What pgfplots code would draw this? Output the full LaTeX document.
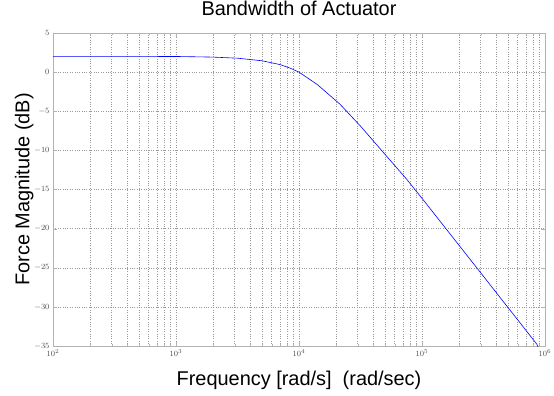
\documentclass[border=0pt]{standalone}
\usepackage{fontspec}
\setmainfont{Liberation Sans}
\usepackage{pgfplots}
\pgfplotsset{compat=1.18}
\begin{document}
\begin{tikzpicture}
\begin{axis}[
  scale only axis,
  width=492bp, height=313bp,
  xmode=log,
  xmin=100, xmax=1000000,
  ymin=-35, ymax=5,
  ytick={-35,-30,-25,-20,-15,-10,-5,0,5},
  xtick={100,1000,10000,100000,1000000},
  minor xtick={200,300,400,500,600,700,800,900,
               2000,3000,4000,5000,6000,7000,8000,9000,
               20000,30000,40000,50000,60000,70000,80000,90000,
               200000,300000,400000,500000,600000,700000,800000,900000},
  log basis x=10,
  xmajorgrids=true, xminorgrids=true,
  ymajorgrids=true, yminorgrids=false,
  major grid style={dotted, gray!80, line width=0.5pt},
  minor grid style={dotted, gray!80, line width=0.5pt},
  axis line style={gray!60, line width=0.8pt},
  tick style={gray!60},
  tick align=inside,
  major tick length=4bp,
  minor tick length=2bp,
  tick label style={font=\fontsize{8.5}{10}\selectfont, text=black!70},
  title={Bandwidth of Actuator},
  title style={font=\fontsize{20}{22}\selectfont, at={(axis description cs:0.5,1.036)}, anchor=base},
  xlabel={Frequency [rad/s]\ \ (rad/sec)},
  ylabel={Force Magnitude (dB)},
  xlabel style={font=\fontsize{20}{22}\selectfont, at={(axis description cs:0.5,-0.1246)}, anchor=base},
  ylabel style={font=\fontsize{20}{22}\selectfont, at={(axis description cs:-0.048,0.5)}, anchor=base},
  clip=true,
]
\addplot[blue, line width=0.6pt] coordinates {
(100,2.02)
(1000,2.0)
(1995,1.92)
(3162,1.78)
(5012,1.45)
(7079,0.95)
(8500,0.5)
(10000,0.0)
(14125,-1.6)
(21528,-4.1)
(31623,-6.9)
(45709,-9.8)
(75162,-13.7)
(105682,-16.6)
(316228,-26.1)
(860994,-34.8)
(880000,-35.2)
};
\end{axis}
\pgfresetboundingbox
\path ([xshift=-53bp,yshift=-50bp]current axis.south west) rectangle ([xshift=9bp,yshift=33bp]current axis.north east);
\end{tikzpicture}
\end{document}
